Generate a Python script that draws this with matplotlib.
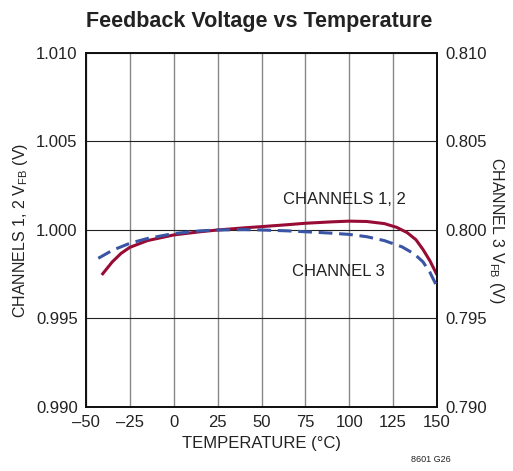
import matplotlib
matplotlib.use("Agg")
from matplotlib import pyplot as plt

# Dados
temp_ch12 = [-41, -35, -30, -25, -15, 0, 15, 25, 40, 50, 65, 75, 90, 100, 110, 120, 127, 133, 138, 142, 146, 150]
vfb_ch12 = [0.99746, 0.99820, 0.99868, 0.99902, 0.99940, 0.99972, 0.99990, 1.00000, 1.00012, 1.00019, 1.00030,
            1.00038, 1.00046, 1.00050, 1.00048, 1.00036, 1.00015, 0.99985, 0.99945, 0.99890, 0.99825, 0.99746]

temp_ch3 = [-43, -35, -25, -15, 0, 15, 25, 40, 50, 65, 75, 90, 100, 110, 120, 130, 137, 142, 146, 150]
vfb_ch3 = [0.79840, 0.79885, 0.79925, 0.79952, 0.79980, 0.79995, 0.80000, 0.80002, 0.80000, 0.79995,
           0.79990, 0.79982, 0.79975, 0.79962, 0.79940, 0.79905, 0.79865, 0.79820, 0.79760, 0.79680]

x_ticks = [-50, -25, 0, 25, 50, 75, 100, 125, 150]
y_left_ticks = [0.990, 0.995, 1.000, 1.005, 1.010]
y_right_ticks = [0.790, 0.795, 0.800, 0.805, 0.810]

plt.rcParams['font.family'] = ['Liberation Sans', 'DejaVu Sans']
plt.rcParams['font.size'] = 12

fig = plt.figure(figsize=(5.13, 4.71), dpi=100)
ax = fig.add_axes([0.1676, 0.1359, 0.6843, 0.7516])
ax2 = ax.twinx()

ax.plot(temp_ch12, vfb_ch12, color='#980b35', linewidth=2.2, solid_capstyle='butt', zorder=3)
ax2.plot(temp_ch3, vfb_ch3, color='#3a55a5', linewidth=2.2, linestyle=(0, (4.5, 2.2)), zorder=3)

ax.set_xlim(-50, 150)
ax.set_ylim(0.990, 1.010)
ax2.set_ylim(0.790, 0.810)
ax.set_xticks(x_ticks)
ax.set_xticklabels([str(t).replace('-', '\u2013') for t in x_ticks])
ax.set_yticks(y_left_ticks)
ax.set_yticklabels(['%.3f' % v for v in y_left_ticks])
ax2.set_yticks(y_right_ticks)
ax2.set_yticklabels(['%.3f' % v for v in y_right_ticks])

ax.grid(True, axis='x', color='#888888', linewidth=1.0)
ax.grid(True, axis='y', color='#222222', linewidth=0.8)
for a in (ax, ax2):
    a.tick_params(length=0, pad=6, labelsize=12, colors='#222222')
    for s in a.spines.values():
        s.set_linewidth(1.3)
        s.set_color('#111111')

ax.set_xlabel('TEMPERATURE (°C)', fontsize=12, color='#222222', labelpad=4)
ax.set_ylabel('CHANNELS 1, 2 V$_{\\mathregular{FB}}$ (V)', fontsize=11.5, color='#222222', labelpad=4)
ax2.set_ylabel('CHANNEL 3 V$_{\\mathregular{FB}}$ (V)', fontsize=11.5, color='#222222', rotation=-90, labelpad=14)

ax.text(97, 1.0017, 'CHANNELS 1, 2', ha='center', va='center', fontsize=12, color='#222222')
ax.text(94, 0.99763, 'CHANNEL 3', ha='center', va='center', fontsize=12, color='#222222')

fig.text(0.505, 0.955, 'Feedback Voltage vs Temperature', ha='center', va='center',
         fontsize=15.5, fontweight='bold', color='#222222')
fig.text(0.84, 0.015, '8601 G26', ha='center', va='bottom', fontsize=6.5, color='#222222')

fig.savefig('out.png', dpi=100)
